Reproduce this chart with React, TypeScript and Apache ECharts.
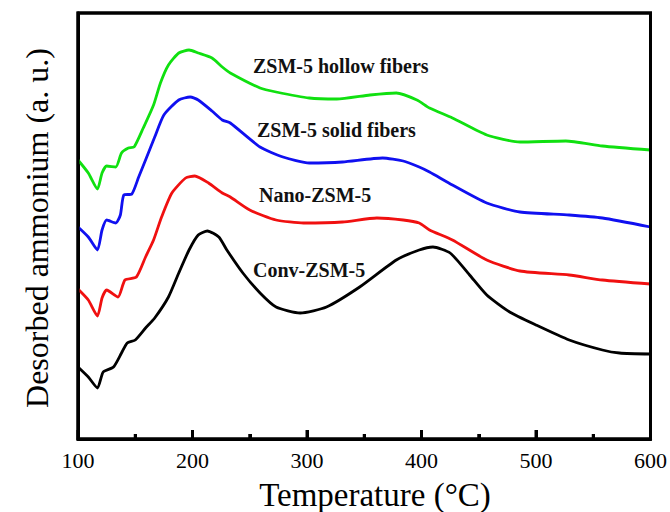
import React, { useEffect, useRef } from "react";
import * as echarts from "echarts";

// Temperature (°C), desorbed ammonium (a.u., offset traces)
const hollowFibers: [number, number][] = [
  [100, 279], [109, 266], [117, 250], [121, 266], [125, 273], [133, 272], [138, 286], [144, 291],
  [149, 292], [157, 311], [166, 334], [172, 356], [179, 374], [188, 386], [197, 389], [205, 386],
  [217, 381], [226, 372], [233, 366], [259, 351], [273, 347], [302, 341], [326, 340], [355, 344],
  [378, 346], [396, 339], [407, 331], [427, 321], [457, 304], [486, 297], [526, 298], [558, 293],
  [600, 289],
];
const solidFibers: [number, number][] = [
  [100, 212], [109, 202], [117, 189], [121, 209], [125, 219], [133, 216], [137, 224], [140, 244],
  [147, 245], [153, 262], [159, 279], [167, 302], [175, 324], [188, 339], [198, 342], [205, 339],
  [217, 328], [226, 319], [233, 316], [259, 292], [279, 282], [302, 276], [331, 277], [366, 281],
  [384, 278], [398, 272], [407, 267], [427, 254], [457, 236], [486, 227], [529, 224], [558, 221],
  [600, 212],
];
const nanoZSM5: [number, number][] = [
  [100, 150], [109, 139], [117, 123], [121, 141], [125, 149], [135, 142], [141, 159], [151, 162],
  [159, 182], [166, 199], [173, 222], [182, 246], [194, 261], [202, 263], [214, 256], [226, 246],
  [233, 242], [250, 229], [273, 219], [297, 216], [331, 217], [361, 221], [384, 219], [398, 216],
  [407, 209], [427, 199], [457, 179], [486, 168], [529, 164], [558, 159], [600, 155],
];
const convZSM5: [number, number][] = [
  [100, 72], [109, 62], [117, 51], [122, 67], [131, 72], [138, 86], [143, 96], [150, 99],
  [159, 111], [167, 121], [179, 142], [188, 166], [197, 189], [205, 204], [213, 208], [223, 202],
  [230, 189], [244, 166], [259, 146], [273, 132], [294, 126], [317, 132], [346, 152], [378, 179],
  [398, 189], [410, 192], [425, 186], [442, 164], [457, 144], [477, 127], [500, 114], [529, 99],
  [558, 89], [573, 86], [600, 85],
];

const seriesNames = ["ZSM-5 hollow fibers", "ZSM-5 solid fibers", "Nano-ZSM-5", "Conv-ZSM-5"];
const seriesColors = ["#10e010", "#1010f0", "#f01010", "#000000"];
const tickValues = [100, 150, 200, 250, 300, 350, 400, 450, 500, 550, 600];
const xTitle = "Temperature (°C)";
const yTitle = "Desorbed ammonium (a. u.)";

const X_MIN = 100;
const X_MAX = 600;
const Y_MIN = 0;
const Y_MAX = 426;
const SERIF = "Liberation Serif";

export default function App() {
  const ref = useRef<HTMLDivElement>(null);
  useEffect(() => {
    document.body.style.margin = "0";
    const chart = echarts.init(ref.current!, null, { renderer: "svg" });
    const datasets = [hollowFibers, solidFibers, nanoZSM5, convZSM5];
    const labelPos = [
      [253, 66],
      [257, 130],
      [259, 195],
      [253, 270],
    ];
    chart.setOption({
      animation: false,
      grid: {
        left: 78,
        right: 19,
        top: 13,
        bottom: 73,
        show: true,
        borderColor: "#000",
        borderWidth: 3,
      },
      xAxis: {
        type: "value",
        min: X_MIN,
        max: X_MAX,
        interval: 100,
        axisLine: { show: true, onZero: false, lineStyle: { color: "#000", width: 3 } },
        axisTick: { show: true, inside: true, length: 9, lineStyle: { color: "#000", width: 3 } },
        minorTick: { show: true, splitNumber: 2, length: 5, lineStyle: { color: "#000", width: 3 } },
        splitLine: { show: false },
        axisLabel: {
          color: "#000",
          fontFamily: SERIF,
          fontSize: 22,
          margin: 10,
          showMinLabel: true,
          showMaxLabel: true,
        },
      },
      yAxis: {
        type: "value",
        min: Y_MIN,
        max: Y_MAX,
        axisLine: { show: true, onZero: false, lineStyle: { color: "#000", width: 3 } },
        axisTick: { show: false },
        axisLabel: { show: false },
        splitLine: { show: false },
      },
      series: [
        ...datasets.map((d, i) => ({
          name: seriesNames[i],
          type: "line",
          data: d,
          smooth: 0.2,
          showSymbol: false,
          symbol: "none",
          lineStyle: { color: seriesColors[i], width: 2.8 },
          z: 2 + i,
        })),
        {
          name: "ticks",
          type: "custom",
          coordinateSystem: "cartesian2d",
          silent: true,
          z: 10,
          data: tickValues.map((t) => [t, Y_MIN]),
          renderItem: (_params: any, api: any) => {
            const t = api.value(0);
            const p = api.coord([t, Y_MIN]);
            const len = t % 100 === 0 ? 9 : 5;
            return {
              type: "line",
              shape: { x1: p[0], y1: p[1], x2: p[0], y2: p[1] - len },
              style: { stroke: "#000", lineWidth: 3 },
            };
          },
        },
        {
          name: "frame",
          type: "custom",
          coordinateSystem: "cartesian2d",
          silent: true,
          z: 10,
          data: [[X_MIN, Y_MIN]],
          renderItem: (_params: any, api: any) => {
            const a = api.coord([X_MIN, Y_MAX]);
            const b = api.coord([X_MAX, Y_MIN]);
            return {
              type: "rect",
              shape: { x: a[0], y: a[1], width: b[0] - a[0], height: b[1] - a[1] },
              style: { fill: "none", stroke: "#000", lineWidth: 3 },
            };
          },
        },
      ],
      graphic: [
        ...seriesNames.map((n, i) => ({
          type: "text",
          x: labelPos[i][0],
          y: labelPos[i][1],
          style: {
            text: n,
            fill: "#111",
            font: `bold 20px "${SERIF}"`,
            textAlign: "left",
            textVerticalAlign: "middle",
          },
        })),
        {
          type: "text",
          x: 375,
          y: 495,
          style: {
            text: xTitle,
            fill: "#000",
            font: `33px "${SERIF}"`,
            textAlign: "center",
            textVerticalAlign: "middle",
          },
        },
        {
          type: "text",
          x: 37,
          y: 228,
          rotation: Math.PI / 2,
          style: {
            text: yTitle,
            fill: "#000",
            font: `32px "${SERIF}"`,
            textAlign: "center",
            textVerticalAlign: "middle",
          },
        },
      ],
    });
    return () => chart.dispose();
  }, []);
  return <div ref={ref} style={{ width: 670, height: 512 }} />;
}
